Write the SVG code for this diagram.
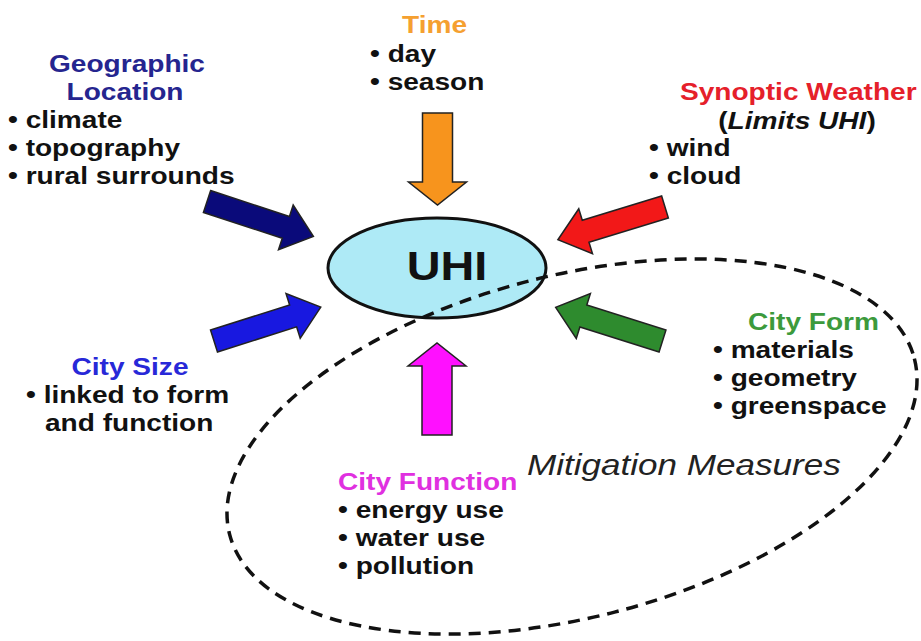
<svg xmlns="http://www.w3.org/2000/svg" xmlns:xlink="http://www.w3.org/1999/xlink" width="921" height="641" viewBox="0 0 921 641">
<style>
.t{font-family:"Liberation Sans",Arial,sans-serif;font-weight:bold;font-size:24px;fill:#111}
.c{text-anchor:middle}
.arr{stroke:#222;stroke-width:1.5;stroke-linejoin:miter}
</style>
<defs>
<polygon id="diag" points="0,-11.5 83,-11.5 83,-23.5 112,0 83,23.5 83,11.5 0,11.5"/>
<polygon id="vert" points="0,-15 69,-15 69,-29 92,0 69,29 69,15 0,15"/>
</defs>
<rect width="921" height="641" fill="#fff"/>

<g id="uhi">
<ellipse cx="437" cy="268" rx="109" ry="50" fill="#aeeaf6" stroke="#111" stroke-width="3"/>
<text class="t c" transform="matrix(1.17 0 0 1 447 280)" style="font-size:40px">UHI</text>
</g>

<g id="mitigation">
<ellipse cx="572" cy="446.5" rx="353.5" ry="171" transform="rotate(-14.4 572 446.5)" fill="none" stroke="#111" stroke-width="3.5" stroke-dasharray="12 8"/>
<text transform="matrix(1.17 0 0 1 527 475)" style="font-family:'Liberation Sans',Arial,sans-serif;font-style:italic;font-size:30px;fill:#222">Mitigation Measures</text>
</g>

<g id="connectors">
<use xlink:href="#diag" class="arr" fill="#0a0a7a" transform="translate(207 201.5) rotate(18.2)"/>
<use xlink:href="#vert" class="arr" fill="#f7941d" transform="translate(437.5 113) rotate(90)"/>
<use xlink:href="#diag" class="arr" fill="#f21818" transform="translate(665 207) rotate(163)"/>
<use xlink:href="#diag" class="arr" fill="#1818e0" transform="translate(214 341) rotate(-17.6)"/>
<use xlink:href="#diag" class="arr" fill="#2e8b2e" transform="translate(662.5 341) rotate(197.5)"/>
<use xlink:href="#vert" class="arr" fill="#ff10ff" transform="translate(437 435) rotate(-90)"/>
</g>

<g id="geographic">
<text class="t c" transform="matrix(1.17 0 0 1 127 72)" style="fill:#25258f">Geographic</text>
<text class="t c" transform="matrix(1.17 0 0 1 125 100)" style="fill:#25258f">Location</text>
<text class="t" transform="matrix(1.17 0 0 1 8 128)">• climate</text>
<text class="t" transform="matrix(1.17 0 0 1 8 156)">• topography</text>
<text class="t" transform="matrix(1.17 0 0 1 8 184)">• rural surrounds</text>
</g>

<g id="time">
<text class="t c" transform="matrix(1.17 0 0 1 434.5 33)" style="fill:#f5a030">Time</text>
<text class="t" transform="matrix(1.17 0 0 1 370 62)">• day</text>
<text class="t" transform="matrix(1.17 0 0 1 370 90)">• season</text>
</g>

<g id="synoptic">
<text class="t" transform="matrix(1.17 0 0 1 680 100)" style="fill:#e5202a">Synoptic Weather</text>
<text class="t c" transform="matrix(1.17 0 0 1 797 129)">(<tspan font-style="italic">Limits UHI</tspan>)</text>
<text class="t" transform="matrix(1.17 0 0 1 649 156)">• wind</text>
<text class="t" transform="matrix(1.17 0 0 1 649 184)">• cloud</text>
</g>

<g id="citysize">
<text class="t c" transform="matrix(1.17 0 0 1 130 375)" style="fill:#2828d8">City Size</text>
<text class="t" transform="matrix(1.17 0 0 1 26 403)">• linked to form</text>
<text class="t" transform="matrix(1.17 0 0 1 45 431)">and function</text>
</g>

<g id="cityform">
<text class="t" transform="matrix(1.17 0 0 1 748 330)" style="fill:#3c9a3c">City Form</text>
<text class="t" transform="matrix(1.17 0 0 1 713 358)">• materials</text>
<text class="t" transform="matrix(1.17 0 0 1 713 386)">• geometry</text>
<text class="t" transform="matrix(1.17 0 0 1 713 414)">• greenspace</text>
</g>

<g id="cityfunction">
<text class="t" transform="matrix(1.17 0 0 1 338 490)" style="fill:#e030e0">City Function</text>
<text class="t" transform="matrix(1.17 0 0 1 338 518)">• energy use</text>
<text class="t" transform="matrix(1.17 0 0 1 338 546)">• water use</text>
<text class="t" transform="matrix(1.17 0 0 1 338 574)">• pollution</text>
</g>
</svg>
